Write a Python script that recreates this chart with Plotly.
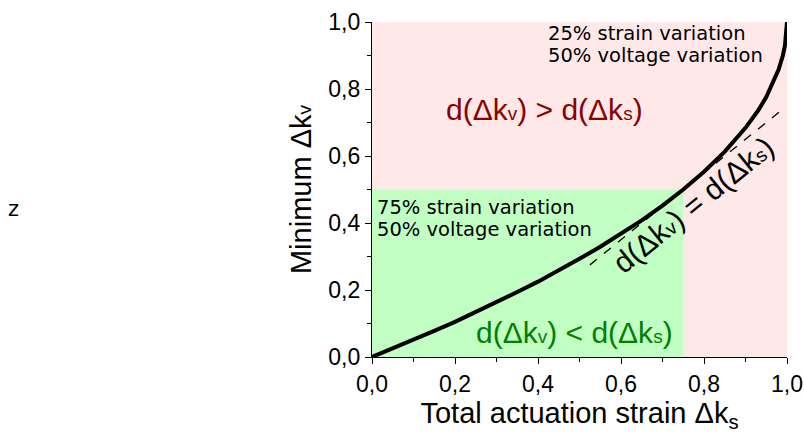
import plotly.graph_objects as go

# Minimum voltage-driven strain as a function of the total actuation strain
strain_total = [0.0, 0.05, 0.1, 0.15, 0.2, 0.25, 0.3, 0.35, 0.4, 0.45, 0.5, 0.55, 0.6,
                0.65, 0.7, 0.75, 0.8, 0.85, 0.9, 0.93, 0.95, 0.97, 0.98, 0.99, 0.995, 1.0]
min_dk_v = [0.0, 0.025, 0.051, 0.078, 0.105, 0.134, 0.163, 0.194, 0.225, 0.258, 0.293,
            0.329, 0.368, 0.408, 0.452, 0.5, 0.553, 0.613, 0.684, 0.735, 0.776, 0.827,
            0.859, 0.9, 0.929, 1.0]

# Tangent where d(dk_v) = d(dk_s)
tangent_x = [0.525, 0.985]
tangent_y = [0.275, 0.735]

# Shaded regions: (x0, x1, y0, y1)
region_upper = [0.0, 1.0, 0.0, 1.0]
region_lower = [0.0, 0.75, 0.0, 0.5]

tick_vals = [0.0, 0.2, 0.4, 0.6, 0.8, 1.0]
tick_text = ["0,0", "0,2", "0,4", "0,6", "0,8", "1,0"]

FONT = "Liberation Sans, Arial, sans-serif"
NOTE_FONT = "DejaVu Sans, sans-serif"
SMALL = '<span style="font-size:19px">{}</span>'

fig = go.Figure()

fig.add_shape(type="rect", xref="x", yref="y", layer="below",
              x0=region_upper[0], x1=region_upper[1], y0=region_upper[2], y1=region_upper[3],
              fillcolor="#ffe8e8", line_width=0)
fig.add_shape(type="rect", xref="x", yref="y", layer="below",
              x0=region_lower[0], x1=region_lower[1], y0=region_lower[2], y1=region_lower[3],
              fillcolor="#c2ffc2", line_width=0)

fig.add_trace(go.Scatter(x=tangent_x, y=tangent_y, mode="lines",
                         line=dict(color="black", width=1.3, dash="dash"),
                         showlegend=False, hoverinfo="skip"))
fig.add_trace(go.Scatter(x=strain_total, y=min_dk_v, mode="lines",
                         line=dict(color="black", width=4),
                         showlegend=False))

ann = []
note = dict(size=19.5, color="black", family=NOTE_FONT)
ann.append(dict(x=0.422, y=0.9643, text="25% strain variation", xanchor="left", font=note))
ann.append(dict(x=0.422, y=0.9001, text="50% voltage variation", xanchor="left", font=note))
ann.append(dict(x=0.009, y=0.4449, text="75% strain variation", xanchor="left", font=note))
ann.append(dict(x=0.009, y=0.3807, text="50% voltage variation", xanchor="left", font=note))
ann.append(dict(x=0.416, y=0.738,
                text="d(\u0394k" + SMALL.format("v") + ") > d(\u0394k" + SMALL.format("s") + ")",
                font=dict(size=30, color="#8b0000", family=FONT)))
ann.append(dict(x=0.488, y=0.073,
                text="d(\u0394k" + SMALL.format("v") + ") < d(\u0394k" + SMALL.format("s") + ")",
                font=dict(size=30, color="#008000", family=FONT)))
ann.append(dict(x=0.775, y=0.455, textangle=-39,
                text="d(\u0394k" + SMALL.format("v") + ") = d(\u0394k" + SMALL.format("s") + ")",
                font=dict(size=30, color="black", family=FONT)))
for a in ann:
    a.update(xref="x", yref="y", showarrow=False, yanchor="middle", borderpad=0)
    a.setdefault("xanchor", "center")

ann.append(dict(xref="paper", yref="paper", x=-0.863, y=0.443, text="z",
                showarrow=False, xanchor="center", yanchor="middle",
                font=dict(size=21, color="black", family="DejaVu Sans")))

axis_common = dict(
    range=[0, 1], tickvals=tick_vals, ticktext=tick_text, automargin=False,
    showline=True, linecolor="black", linewidth=1.3,
    ticks="outside", ticklen=6, tickwidth=1.3, tickcolor="black",
    minor=dict(dtick=0.1, ticks="outside", ticklen=4, tickwidth=1.2, tickcolor="black"),
    showgrid=False, zeroline=False,
    tickfont=dict(size=23, color="black", family=FONT),
)

fig.update_layout(
    width=804, height=436,
    margin=dict(l=372, r=17, t=22, b=79),
    paper_bgcolor="white", plot_bgcolor="white",
    annotations=ann,
    xaxis=dict(axis_common,
               title=dict(text="Total actuation strain \u0394k<sub>s</sub>",
                          font=dict(size=29, color="black", family=FONT), standoff=0)),
    yaxis=dict(axis_common,
               title=dict(text="Minimum \u0394k" + '<span style="font-size:19px">v</span>',
                          font=dict(size=29, color="black", family=FONT), standoff=8)),
)

fig.write_html("out.html")
